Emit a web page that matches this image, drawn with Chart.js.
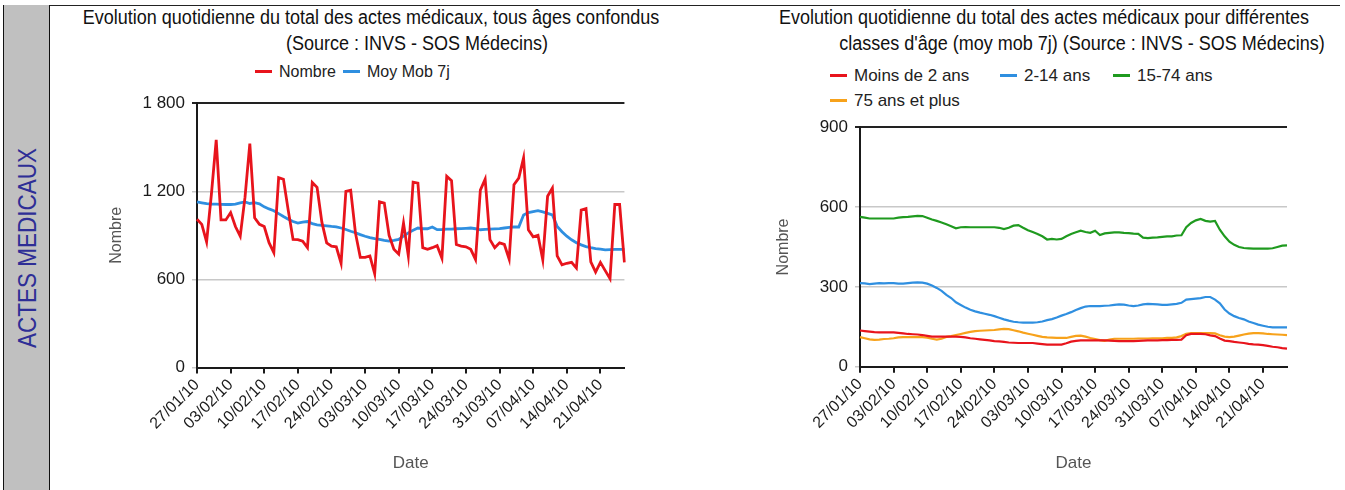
<!DOCTYPE html>
<html lang="fr">
<head>
<meta charset="utf-8">
<script src="https://cdn.jsdelivr.net/npm/chart.js@4.4.1/dist/chart.umd.min.js"></script>
<style>
  html, body { margin: 0; padding: 0; background: #fff; }
  body { width: 1345px; height: 490px; position: relative; overflow: hidden; font-family: 'Liberation Sans', Arial, sans-serif; color: #222; }
  .side { position: absolute; left: 3px; top: 5px; width: 47px; height: 485px; background: #c0c0c0; border-left: 1px solid #111; border-right: 1px solid #111; box-sizing: border-box; }
  .side span { position: absolute; left: 50%; top: 50%; transform: translate(-50%, -50%) rotate(-90deg) scaleX(0.9); white-space: nowrap; font-size: 25px; color: #2e2e96; }
  .topline { position: absolute; left: 3px; top: 5px; width: 1337px; height: 1px; background: #222; }
  .t { position: absolute; transform: translateX(-50%) scaleX(0.9); white-space: nowrap; font-size: 20px; color: #111; }
  .lg { position: absolute; white-space: nowrap; font-size: 16px; line-height: 20px; }
  .lg i { display: inline-block; width: 17px; height: 3px; vertical-align: middle; margin-right: 7px; margin-top: -2px; }
  canvas { position: absolute; }
</style>
</head>
<body>
<div class="topline"></div>
<div class="side"><span>ACTES MEDICAUX</span></div>

<div class="t" style="left:371px; top:6px">Evolution quotidienne du total des actes médicaux, tous âges confondus</div>
<div class="t" style="left:417px; top:32px">(Source : INVS - SOS Médecins)</div>
<div class="lg" style="left:255px; top:62px"><i style="background:#e8141c"></i>Nombre</div>
<div class="lg" style="left:343px; top:62px"><i style="background:#2f8fe0"></i>Moy Mob 7j</div>

<div class="t" style="left:1044px; top:6px">Evolution quotidienne du total des actes médicaux pour différentes</div>
<div class="t" style="left:1082px; top:32px">classes d'âge (moy mob 7j) (Source : INVS - SOS Médecins)</div>
<div class="lg" style="left:830px; top:66px; font-size:17px"><i style="background:#e8141c"></i>Moins de 2 ans</div>
<div class="lg" style="left:1000px; top:66px; font-size:17px"><i style="background:#2f8fe0"></i>2-14 ans</div>
<div class="lg" style="left:1113px; top:66px; font-size:17px"><i style="background:#1f9a1f"></i>15-74 ans</div>
<div class="lg" style="left:830px; top:91px; font-size:17px"><i style="background:#f7a21b"></i>75 ans et plus</div>

<canvas id="total" width="580" height="404" style="left:60px; top:86px; width:580px; height:404px"></canvas>
<canvas id="ages" width="640" height="380" style="left:700px; top:110px; width:640px; height:380px"></canvas>

<script>
// 27/01/10 -> 26/04/10, un point par jour
const FIRST_DAY = [2010, 0, 27]
const DAY_COUNT = 90
const TICK_EVERY = 7

const NOMBRE = [
  1010, 975, 855, 1180, 1550, 1005, 1005,
  1055, 960, 894, 1160, 1525, 1020, 975,
  960, 850, 782, 1293, 1282, 1070, 872,
  871, 860, 816, 1260, 1227, 990, 849,
  827, 822, 710, 1200, 1207, 915, 750,
  750, 760, 639, 1128, 1120, 900, 805,
  772, 983, 761, 1262, 1256, 816, 805,
  816, 830, 745, 1302, 1272, 838, 827,
  822, 805, 735, 1208, 1283, 871, 816,
  849, 838, 738, 1245, 1290, 1428, 938,
  890, 900, 733, 1166, 1222, 760, 699,
  710, 716, 677, 1072, 1082, 720, 650,
  716, 660, 605, 1110, 1110, 716
]

const MOY_MOB_7J = [
  1128, 1122, 1116, 1112, 1112, 1111, 1110,
  1110, 1112, 1121, 1128, 1117, 1123, 1115,
  1094, 1080, 1068, 1048, 1028, 1010, 994,
  983, 990, 994, 980, 972, 968, 965,
  961, 958, 950, 940, 928, 918, 905,
  894, 885, 878, 872, 866, 861, 865,
  872, 895, 917, 935, 950, 945, 945,
  957, 939, 940, 942, 943, 945, 946,
  948, 950, 945, 938, 940, 942, 944,
  946, 950, 954, 957, 957, 1039, 1055,
  1062, 1068, 1060, 1050, 1039, 961, 925,
  894, 870, 850, 835, 823, 816, 810,
  806, 801, 803, 805, 805, 805
]

const MOINS_2_ANS = [
  136, 134, 132, 130, 129, 129, 129,
  129, 127, 125, 123, 122, 121, 119,
  116, 113, 113, 113, 113, 113, 113,
  112, 110, 107, 105, 103, 101, 99,
  96, 95, 93, 91, 90, 89, 89,
  89, 89, 87, 85, 83, 83, 83,
  83, 88, 94, 97, 99, 99, 99,
  99, 99, 99, 98, 97, 96, 96,
  96, 96, 97, 98, 99, 99, 99,
  100, 100, 101, 101, 102, 118, 123,
  123, 123, 122, 118, 115, 106, 98,
  96, 93, 91, 89, 86, 84, 83,
  81, 78, 75, 73, 70, 68
]

const ANS_2_14 = [
  314, 313, 310, 312, 314, 313, 314,
  314, 312, 312, 314, 316, 317, 316,
  312, 305, 296, 285, 270, 258, 242,
  232, 222, 214, 208, 203, 199, 195,
  190, 184, 178, 173, 169, 167, 166,
  166, 166, 167, 170, 175, 179, 185,
  192, 198, 205, 213, 220, 226, 228,
  228, 228, 229, 230, 232, 234, 233,
  230, 228, 230, 234, 236, 235, 234,
  232, 232, 234, 236, 240, 252, 254,
  256, 258, 262, 262, 252, 238, 215,
  200, 190, 183, 178, 170, 164, 158,
  154, 150, 148, 148, 148, 148
]

const ANS_15_74 = [
  563, 560, 557, 557, 557, 557, 557,
  557, 560, 562, 563, 565, 567, 566,
  560, 553, 548, 542, 535, 528, 520,
  524, 525, 524, 524, 524, 524, 524,
  524, 522, 517, 522, 530, 532, 522,
  513, 506, 499, 490, 478, 480, 478,
  480, 490, 499, 505, 511, 506, 503,
  511, 495, 501, 503, 505, 505, 503,
  502, 500, 499, 485, 483, 485, 486,
  488, 490, 490, 493, 494, 524, 540,
  550, 555, 548, 545, 548, 515, 490,
  470, 458, 450, 446, 445, 444, 444,
  444, 444, 445, 450, 455, 456
]

const ANS_75_PLUS = [
  111, 107, 103, 101, 102, 104, 105,
  107, 110, 111, 111, 111, 111, 111,
  109, 105, 102, 105, 112, 115, 119,
  123, 127, 131, 134, 135, 136, 137,
  138, 140, 142, 141, 137, 133, 128,
  124, 120, 116, 112, 110, 109, 108,
  108, 108, 112, 116, 117, 113, 108,
  104, 100, 97, 102, 105, 105, 105,
  105, 105, 106, 106, 106, 107, 107,
  107, 108, 108, 110, 115, 124, 126,
  126, 126, 126, 126, 125, 118, 113,
  111, 113, 117, 121, 124, 126, 126,
  125, 123, 122, 121, 120, 119
]

const pad2 = (n) => String(n).padStart(2, '0')

const DATES = []
for (let i = 0; i < DAY_COUNT; i++) {
  const d = new Date(FIRST_DAY[0], FIRST_DAY[1], FIRST_DAY[2] + i)
  DATES.push(pad2(d.getDate()) + '/' + pad2(d.getMonth() + 1) + '/' + String(d.getFullYear()).slice(2))
}

const FONT = "'Liberation Sans', Arial, sans-serif"

function lineSet (label, data, color, width) {
  return {
    label,
    data,
    borderColor: color,
    backgroundColor: color,
    borderWidth: width,
    pointRadius: 0,
    tension: 0,
    fill: false
  }
}

function buildOptions ({ yMax, yStep, padding, yWidth, xHeight }) {
  return {
    responsive: false,
    animation: false,
    layout: { padding },
    plugins: {
      legend: { display: false },
      tooltip: { enabled: false }
    },
    scales: {
      x: {
        type: 'category',
        offset: false,
        afterFit: (scale) => { scale.height = xHeight },
        border: { color: '#1a1a1a', width: 2 },
        grid: {
          drawOnChartArea: false,
          drawTicks: true,
          tickLength: 6,
          lineWidth: 2,
          color: (ctx) => (ctx.index % TICK_EVERY === 0 ? '#1a1a1a' : 'rgba(0,0,0,0)')
        },
        ticks: {
          autoSkip: false,
          minRotation: 45,
          maxRotation: 45,
          padding: 2,
          color: '#1a1a1a',
          font: { family: FONT, size: 16 },
          callback: (value, index) => (index % TICK_EVERY === 0 ? DATES[index] : '')
        },
        title: {
          display: true,
          text: 'Date',
          color: '#555',
          font: { family: FONT, size: 17 },
          padding: { top: 4, bottom: 4 }
        }
      },
      y: {
        min: 0,
        max: yMax,
        afterFit: (scale) => { scale.width = yWidth },
        border: { color: '#1a1a1a', width: 2 },
        grid: {
          drawTicks: true,
          tickLength: 5,
          lineWidth: (ctx) => (ctx.tick && ctx.tick.value === yMax ? 2 : 1.5),
          color: (ctx) => (ctx.tick && ctx.tick.value === yMax ? '#222' : '#c8c8c8')
        },
        ticks: {
          stepSize: yStep,
          padding: 7,
          color: '#1a1a1a',
          font: { family: FONT, size: 17 },
          callback: (value) => String(value).replace(/\B(?=(\d{3})+(?!\d))/g, ' ')
        },
        title: {
          display: true,
          text: 'Nombre',
          color: '#555',
          font: { family: FONT, size: 16 },
          padding: { top: 4, bottom: 4 }
        }
      }
    }
  }
}

new Chart(document.getElementById('total'), {
  type: 'line',
  data: {
    labels: DATES,
    datasets: [
      lineSet('Nombre', NOMBRE, '#e8141c', 2.8),
      lineSet('Moy Mob 7j', MOY_MOB_7J, '#2f8fe0', 2.8)
    ]
  },
  options: buildOptions({
    yMax: 1800,
    yStep: 600,
    padding: { left: 43, top: 12, right: 13, bottom: 12 },
    yWidth: 94,
    xHeight: 110.5
  })
})

new Chart(document.getElementById('ages'), {
  type: 'line',
  data: {
    labels: DATES,
    datasets: [
      lineSet('Moins de 2 ans', MOINS_2_ANS, '#e8141c', 2.2),
      lineSet('2-14 ans', ANS_2_14, '#2f8fe0', 2.2),
      lineSet('15-74 ans', ANS_15_74, '#1f9a1f', 2.2),
      lineSet('75 ans et plus', ANS_75_PLUS, '#f7a21b', 2.2)
    ]
  },
  options: buildOptions({
    yMax: 900,
    yStep: 300,
    padding: { left: 70, top: 13, right: 53, bottom: 12 },
    yWidth: 90,
    xHeight: 111.3
  })
})
</script>
</body>
</html>
